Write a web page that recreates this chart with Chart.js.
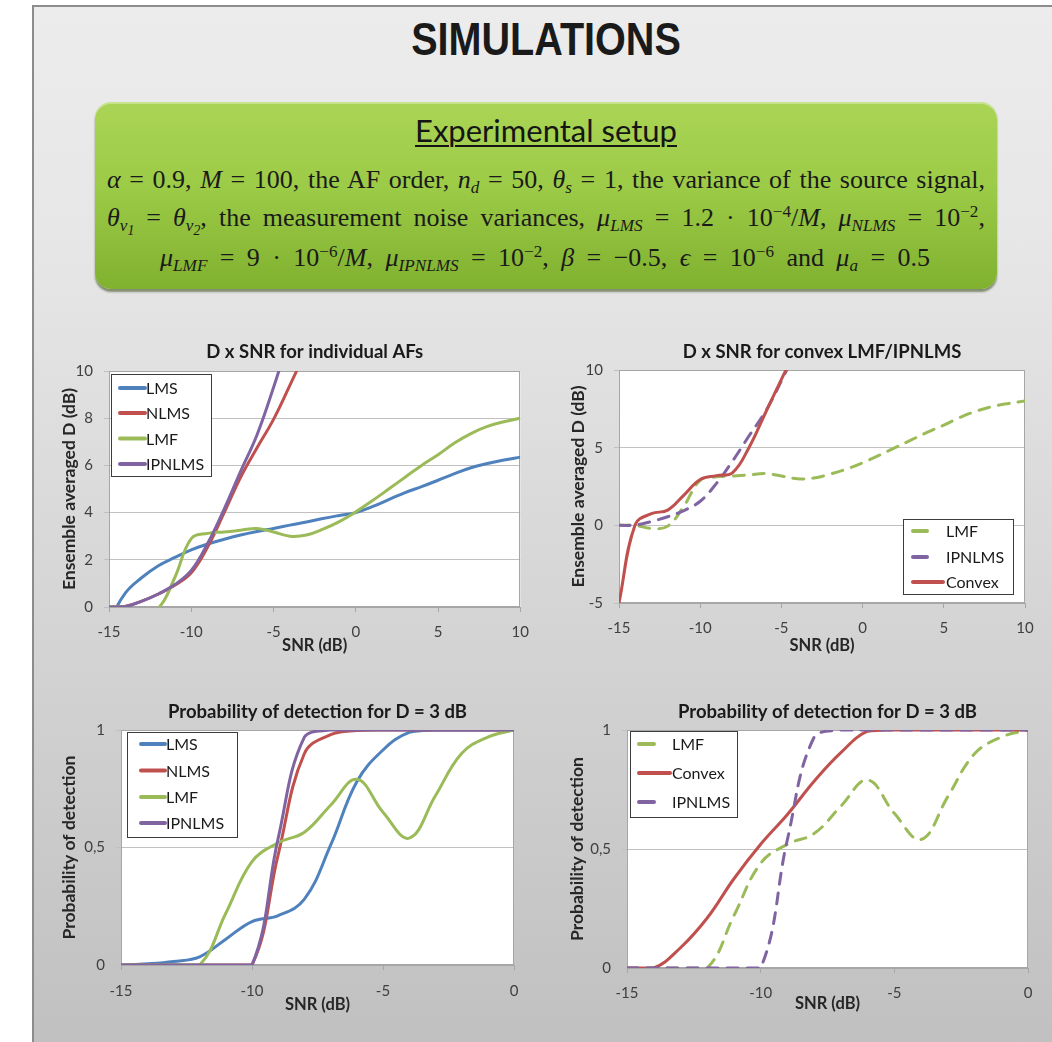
<!DOCTYPE html>
<html>
<head>
<meta charset="utf-8">
<script src="https://cdn.jsdelivr.net/npm/chart.js@4.4.1/dist/chart.umd.min.js"></script>
<style>
  body { margin: 0; width: 1052px; height: 1042px; overflow: hidden; background: #fff; position: relative; font-family: Lato, sans-serif; }
  #panel { position: absolute; left: 32px; top: 5px; width: 1100px; height: 1100px; border-left: 2px solid #8c8c8c; border-top: 2px solid #8c8c8c;
           background: linear-gradient(#ececec 0px, #e6e6e6 250px, #c0c0c0 1040px); }
  #title { position: absolute; left: 246px; width: 600px; top: 16px; text-align: center; font: bold 46px/46px "Liberation Sans", Arial, sans-serif;
           color: #1a1a1a; transform: scaleX(0.86); }
  #setup { position: absolute; left: 95px; top: 102px; width: 902px; height: 187px; border-radius: 16px;
           background: linear-gradient(#aad455 0%, #9ccb47 45%, #80b12f 100%);
           box-shadow: 0 3px 2px rgba(50, 70, 20, 0.55), inset 0 2px 0 rgba(255, 255, 255, 0.35); }
  #setup h2 { position: absolute; left: 0; width: 902px; top: 10px; margin: 0; text-align: center; font: 31px/36px Lato, sans-serif;
              color: #151515; text-decoration: underline; text-decoration-thickness: 2px; text-underline-offset: 3px; }
  .eq { position: absolute; font: 26px/28px "Liberation Serif", "Times New Roman", serif; color: #1a1a1a; white-space: nowrap; }
  .eq sub { font-size: 66%; vertical-align: -0.3em; line-height: 0; }
  .eq sub sub { font-size: 80%; }
  .eq sup { font-size: 66%; vertical-align: 0.55em; line-height: 0; }
  .box { position: absolute; }
</style>
</head>
<body>
<div id="panel"></div>
<div id="title">SIMULATIONS</div>
<div id="setup">
  <h2>Experimental setup</h2>
  <span class="eq" data-w="878" style="top:64px; left:12px"><i>α</i> = 0.9, <i>M</i> = 100, the AF order, <i>n<sub>d</sub></i> = 50, <i>θ<sub>s</sub></i> = 1, the variance of the source signal,</span>
  <span class="eq" data-w="878" style="top:102px; left:12px"><i>θ<sub>v<sub>1</sub></sub></i> = <i>θ<sub>v<sub>2</sub></sub></i>, the measurement noise variances, <i>μ<sub>LMS</sub></i> = 1.2 · 10<sup>−4</sup>/<i>M</i>, <i>μ<sub>NLMS</sub></i> = 10<sup>−2</sup>,</span>
  <span class="eq" data-w="770" style="top:142px; left:65px"><i>μ<sub>LMF</sub></i> = 9 · 10<sup>−6</sup>/<i>M</i>, <i>μ<sub>IPNLMS</sub></i> = 10<sup>−2</sup>, <i>β</i> = −0.5, <i>ϵ</i> = 10<sup>−6</sup> and <i>μ<sub>a</sub></i> = 0.5</span>
</div>

<div class="box" style="left:40px; top:340px"><canvas id="c1" width="500" height="330"></canvas></div>
<div class="box" style="left:560px; top:340px"><canvas id="c2" width="492" height="330"></canvas></div>
<div class="box" style="left:40px; top:700px"><canvas id="c3" width="500" height="342"></canvas></div>
<div class="box" style="left:560px; top:700px"><canvas id="c4" width="492" height="342"></canvas></div>

<script>
// spread each setup line to the width it has on the poster (extra room goes into the spaces)
document.querySelectorAll('.eq').forEach(el => {
  const target = +el.dataset.w;
  const spaces = (el.textContent.match(/ /g) || []).length;
  const w = el.getBoundingClientRect().width;
  el.style.wordSpacing = ((target - w) / spaces).toFixed(2) + 'px';
});

// SNR axis values (dB)
const snrD = [-15, -14, -13, -12, -11, -10, -9, -8, -7, -6, -5, -4, -3, -2, -1, 0, 1, 2, 3, 4, 5, 6, 7, 8, 9, 10];
const snrP = [-15, -14, -13, -12, -11, -10, -9, -8, -7, -6, -5, -4, -3, -2, -1, 0];

// ensemble averaged D (dB)
const dLMS    = [-0.6, 0.6, 1.25, 1.75, 2.1, 2.42, 2.67, 2.87, 3.05, 3.2, 3.33, 3.47, 3.6, 3.75, 3.88, 4.0, 4.25, 4.55, 4.85, 5.1, 5.37, 5.65, 5.9, 6.08, 6.23, 6.35];
const dNLMS   = [0, 0.03, 0.25, 0.55, 0.92, 1.45, 2.55, 4.0, 5.5, 6.75, 7.95, 9.4, 10.9];
const dLMF    = [0, 0, -0.2, -0.05, 1.25, 2.9, 3.12, 3.18, 3.25, 3.33, 3.18, 3.0, 3.05, 3.3, 3.62, 4.03, 4.5, 5.0, 5.5, 6.0, 6.45, 6.95, 7.35, 7.65, 7.85, 8.0];
const dIPNLMS = [0, 0.02, 0.25, 0.55, 0.95, 1.55, 2.7, 4.15, 5.75, 7.3, 9.3, 11.5];
const dConvex = [-5, 0.05, 0.75, 0.98, 1.95, 2.95, 3.2, 3.4, 5.0, 7.2, 9.4, 11.5];

// probability of detection for D = 3 dB
const pLMS    = [0, 0.005, 0.015, 0.035, 0.11, 0.185, 0.21, 0.28, 0.51, 0.78, 0.915, 0.99, 1, 1, 1, 1];
const pNLMS   = [0, 0, 0, 0, 0, 0, 0.47, 0.9, 0.98, 0.998, 1, 1, 1, 1, 1, 1];
const pLMF    = [0, 0, 0, 0, 0.22, 0.44, 0.52, 0.565, 0.68, 0.79, 0.65, 0.54, 0.72, 0.9, 0.97, 1];
const pIPNLMS = [0, 0, 0, 0, 0, 0, 0.54, 0.97, 1, 1, 1, 1, 1, 1, 1, 1];
const pConvex = [0, 0, 0.085, 0.21, 0.375, 0.52, 0.645, 0.785, 0.905, 0.995, 1, 1, 1, 1, 1, 1];

const BLUE = '#4f81bd', RED = '#c0504d', GREEN = '#9bbb59', PURPLE = '#8064a2';
const DASH = [11, 9];
const TITLE_PX = 18.5, YT_PX = 17.5, XT_PX = 16.5, TICK_PX = 15;

const pts = (xs, ys) => ys.map((y, i) => ({ x: xs[i], y }));

// white plot area with a grey frame, like the spreadsheet charts
const plotFrame = {
  id: 'plotFrame',
  beforeDraw(chart) {
    const { ctx, chartArea: a } = chart;
    ctx.save();
    ctx.fillStyle = '#fff';
    ctx.fillRect(a.left, a.top, a.width, a.height);
    ctx.restore();
  },
  beforeDatasetsDraw(chart) {
    const { ctx, chartArea: a } = chart;
    ctx.save();
    ctx.strokeStyle = '#a6a6a6';
    ctx.lineWidth = 1;
    ctx.strokeRect(Math.round(a.left) + 0.5, Math.round(a.top) + 0.5, Math.round(a.width) - 1, Math.round(a.height) - 1);
    ctx.restore();
  }
};

// boxed legend placed inside the plot area
const boxLegend = {
  id: 'boxLegend',
  afterDraw(chart, args, o) {
    if (!o.items) return;
    const ctx = chart.ctx;
    const [ox, oy] = o.origin;
    ctx.save();
    const x = o.box[0] - ox, y = o.box[1] - oy, w = o.box[2] - o.box[0], h = o.box[3] - o.box[1];
    ctx.fillStyle = '#fff';
    ctx.fillRect(x, y, w, h);
    ctx.strokeStyle = '#3c3c3c';
    ctx.lineWidth = 1;
    ctx.strokeRect(x + 0.5, y + 0.5, w, h);
    ctx.font = '16px Lato';
    ctx.textBaseline = 'middle';
    o.items.forEach((di, k) => {
      const ds = chart.data.datasets[di];
      const ry = o.rows[k] - oy;
      const x1 = o.line[0] - ox;
      const x2 = ds.borderDash ? x1 + o.dashLen : o.line[1] - ox;
      ctx.strokeStyle = ds.borderColor;
      ctx.lineWidth = 4;
      ctx.lineCap = 'round';
      ctx.beginPath();
      ctx.moveTo(x1, ry);
      ctx.lineTo(x2, ry);
      ctx.stroke();
      ctx.fillStyle = '#1a1a1a';
      ctx.fillText(ds.label, o.textX - ox, ry + 1);
    });
    ctx.restore();
  }
};

function makeChart(id, c) {
  const n = c.series.length;
  return new Chart(document.getElementById(id), {
    type: 'line',
    data: {
      datasets: c.series.map((s, i) => ({
        label: s.label,
        data: pts(c.x, s.data),
        borderColor: s.color,
        backgroundColor: s.color,
        borderWidth: 3,
        borderDash: s.dash,
        borderCapStyle: s.dash ? 'round' : 'butt',
        pointRadius: 0,
        tension: 0.4,
        fill: false,
        order: n - i
      }))
    },
    options: {
      responsive: false,
      animation: false,
      layout: { padding: { left: 0, right: c.padR, top: 0, bottom: 0 } },
      plugins: {
        legend: { display: false },
        tooltip: { enabled: false },
        title: {
          display: true, text: c.title, fullSize: false, color: '#1a1a1a',
          font: { family: 'Lato', size: TITLE_PX, weight: 'bold' },
          padding: { top: 0.9, bottom: c.titleH - 0.9 - TITLE_PX * 1.2 }
        },
        boxLegend: c.legend
      },
      scales: {
        x: {
          type: 'linear', min: c.xMin, max: c.xMax,
          afterFit(s) { s.height = c.xH; },
          ticks: { stepSize: 5, padding: c.xTickPad, color: '#404040', font: { family: 'Lato', size: TICK_PX }, maxRotation: 0 },
          grid: { drawOnChartArea: false, drawTicks: true, tickLength: 5, color: '#a6a6a6' },
          border: { display: true, color: '#a6a6a6' },
          title: { display: true, text: 'SNR (dB)', color: '#262626', font: { family: 'Lato', size: XT_PX, weight: 'bold' }, padding: { top: 0, bottom: c.xTitlePad } }
        },
        y: {
          type: 'linear', min: c.yMin, max: c.yMax,
          afterFit(s) { s.width = c.yW; },
          ticks: { stepSize: c.yStep, padding: 11, color: '#404040', font: { family: 'Lato', size: TICK_PX }, callback: c.yFmt },
          grid: { color: '#c0c0c0', drawTicks: true, tickLength: 5 },
          border: { display: true, color: '#a6a6a6' },
          title: { display: true, text: c.yTitle, color: '#262626', font: { family: 'Lato', size: YT_PX, weight: 'bold' }, padding: { top: c.yTitlePad, bottom: 0 } }
        }
      }
    },
    plugins: [plotFrame, boxLegend]
  });
}

const comma = v => String(v).replace('.', ',');

makeChart('c1', {
  title: 'D x SNR for individual AFs', titleH: 31, padR: 19, xH: 63, yW: 69,
  x: snrD, xMin: -15, xMax: 10, yMin: 0, yMax: 10, yStep: 2,
  xTickPad: 11, xTitlePad: 14.1, yTitlePad: 18.5, yTitle: 'Ensemble averaged D (dB)',
  series: [
    { label: 'LMS', data: dLMS, color: BLUE },
    { label: 'NLMS', data: dNLMS, color: RED },
    { label: 'LMF', data: dLMF, color: GREEN },
    { label: 'IPNLMS', data: dIPNLMS, color: PURPLE }
  ],
  legend: { origin: [40, 340], box: [111, 374, 211, 476], rows: [388, 413, 438.5, 464], line: [120, 145], dashLen: 15, textX: 146, items: [0, 1, 2, 3] }
});

makeChart('c2', {
  title: 'D x SNR for convex LMF/IPNLMS', titleH: 30, padR: 27, xH: 67, yW: 59,
  x: snrD, xMin: -15, xMax: 10, yMin: -5, yMax: 10, yStep: 5,
  xTickPad: 11, xTitlePad: 14.1, yTitlePad: 7.5, yTitle: 'Ensemble averaged D (dB)',
  series: [
    { label: 'LMF', data: dLMF, color: GREEN, dash: DASH },
    { label: 'IPNLMS', data: dIPNLMS, color: PURPLE, dash: DASH },
    { label: 'Convex', data: dConvex, color: RED }
  ],
  legend: { origin: [560, 340], box: [903, 519, 1013, 594], rows: [531, 557, 582], line: [913, 943], dashLen: 14, textX: 946, items: [0, 1, 2] }
});

makeChart('c3', {
  title: 'Probability of detection for D = 3 dB', titleH: 30, padR: 26, xH: 77, yW: 81,
  x: snrP, xMin: -15, xMax: 0, yMin: 0, yMax: 1, yStep: 0.5, yFmt: comma,
  xTickPad: 12, xTitlePad: 27.1, yTitlePad: 18.5, yTitle: 'Probability of detection',
  series: [
    { label: 'LMS', data: pLMS, color: BLUE },
    { label: 'NLMS', data: pNLMS, color: RED },
    { label: 'LMF', data: pLMF, color: GREEN },
    { label: 'IPNLMS', data: pIPNLMS, color: PURPLE }
  ],
  legend: { origin: [40, 700], box: [127, 732, 237, 837], rows: [744, 770.5, 797, 823], line: [141, 165], dashLen: 15, textX: 166, items: [0, 1, 2, 3] }
});

makeChart('c4', {
  title: 'Probability of detection for D = 3 dB', titleH: 30, padR: 24, xH: 74, yW: 67,
  x: snrP, xMin: -15, xMax: 0, yMin: 0, yMax: 1, yStep: 0.5, yFmt: comma,
  xTickPad: 11, xTitlePad: 28.1, yTitlePad: 6.5, yTitle: 'Probability of detection',
  series: [
    { label: 'LMF', data: pLMF, color: GREEN, dash: DASH },
    { label: 'Convex', data: pConvex, color: RED },
    { label: 'IPNLMS', data: pIPNLMS, color: PURPLE, dash: DASH }
  ],
  legend: { origin: [560, 700], box: [630, 731, 737, 817], rows: [744, 773, 802], line: [639, 670], dashLen: 15, textX: 672, items: [0, 1, 2] }
});
</script>
</body>
</html>
